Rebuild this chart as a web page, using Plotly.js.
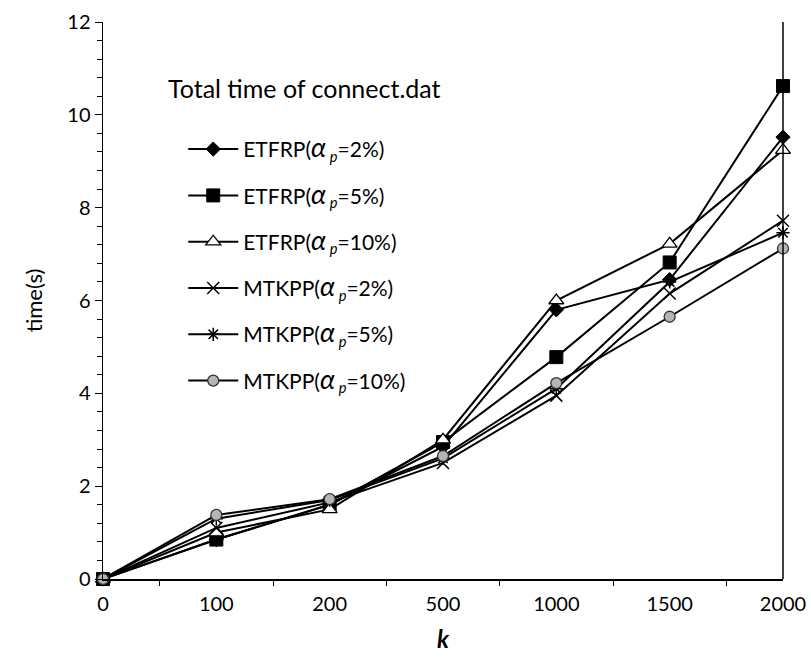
<!DOCTYPE html>
<html>
<head>
<meta charset="utf-8">
<script src="https://cdn.plot.ly/plotly-3.0.1.min.js"></script>
<style>html,body{margin:0;padding:0;background:#fff;}#chart{width:811px;height:661px;}</style>
</head>
<body>
<div id="chart"></div>
<script>
var kValues = ["0", "100", "200", "500", "1000", "1500", "2000"];
var A = "<span style=\"font-size:27px\"><i>α</i></span><sub> <i>p</i></sub>";
var seriesNames = [
  "ETFRP(" + A + "=2%)",
  "ETFRP(" + A + "=5%)",
  "ETFRP(" + A + "=10%)",
  "MTKPP(" + A + "=2%)",
  "MTKPP(" + A + "=5%)",
  "MTKPP(" + A + "=10%)"
];
var etfrp2  = [0, 0.85, 1.60, 2.85, 5.80, 6.45, 9.52];
var etfrp5  = [0, 0.85, 1.60, 2.95, 4.78, 6.82, 10.62];
var etfrp10 = [0, 1.00, 1.50, 3.00, 6.00, 7.22, 9.24];
var mtkpp2  = [0, 1.10, 1.65, 2.50, 3.95, 6.15, 7.72];
var mtkpp5  = [0, 1.30, 1.70, 2.60, 4.10, 6.40, 7.46];
var mtkpp10 = [0, 1.38, 1.72, 2.65, 4.22, 5.65, 7.12];
var yTickVals = [0, 2, 4, 6, 8, 10, 12];

var seriesData = [etfrp2, etfrp5, etfrp10, mtkpp2, mtkpp5, mtkpp10];
var markers = [
  {symbol: "diamond", size: 11, color: "#000", line: {color: "#000", width: 1}},
  {symbol: "square", size: 13, color: "#000", line: {color: "#000", width: 1}},
  {symbol: "triangle-up", size: 13, color: "#fff", line: {color: "#000", width: 1.3}},
  {symbol: "x-thin-open", size: 12, color: "#000", line: {color: "#000", width: 1.5}},
  {symbol: "asterisk-open", size: 11, color: "#000", line: {color: "#000", width: 1.5}},
  {symbol: "circle", size: 11, color: "#b5b5b5", line: {color: "#333", width: 1.3}}
];

var traces = seriesData.map(function (ys, i) {
  return {
    x: kValues, y: ys, type: "scatter", mode: "lines+markers",
    name: seriesNames[i], legendgroup: "g" + i,
    line: {color: "#000", width: 2},
    marker: markers[i], cliponaxis: false
  };
});

var layout = {
  width: 811, height: 661,
  margin: {l: 103, r: 28, t: 22, b: 82},
  paper_bgcolor: "#fff", plot_bgcolor: "#fff",
  font: {family: "Lato, 'Open Sans', sans-serif", color: "#000", size: 20},
  showlegend: true,
  legend: {
    x: 0.118, y: 0.808, xanchor: "left", yanchor: "top",
    bgcolor: "rgba(0,0,0,0)", font: {size: 21},
    traceorder: "grouped", tracegroupgap: 16, itemwidth: 50
  },
  xaxis: {
    type: "category", range: [0, 6], showgrid: false, zeroline: false,
    showline: true, linecolor: "#000", linewidth: 1.5,
    ticks: "outside", ticklen: 5, tickcolor: "#000", tickson: "boundaries",
    tickfont: {size: 20}, ticklabelstandoff: 6,
    title: {text: "<b><i>k</i></b>", font: {size: 24}, standoff: 17}
  },
  yaxis: {
    range: [0, 12], showgrid: false, zeroline: false,
    showline: true, linecolor: "#000", linewidth: 1.5,
    tickvals: yTickVals, ticks: "outside", ticklen: 7, tickcolor: "#000",
    tickfont: {size: 20},
    minor: {ticks: "outside", dtick: 0.4, ticklen: 5, tickcolor: "#000"},
    title: {text: "time(s)", font: {size: 22}, standoff: 18}
  },
  shapes: [
    {type: "line", xref: "paper", yref: "paper", x0: 1, x1: 1, y0: 0, y1: 1,
     line: {color: "#000", width: 1.5}}
  ],
  annotations: [
    {text: "Total time of connect.dat", xref: "paper", yref: "paper",
     x: 0.092, y: 0.881, xanchor: "left", yanchor: "middle", showarrow: false,
     font: {size: 25}}
  ]
};

Plotly.newPlot("chart", traces, layout, {displayModeBar: false, staticPlot: true});
</script>
</body>
</html>
